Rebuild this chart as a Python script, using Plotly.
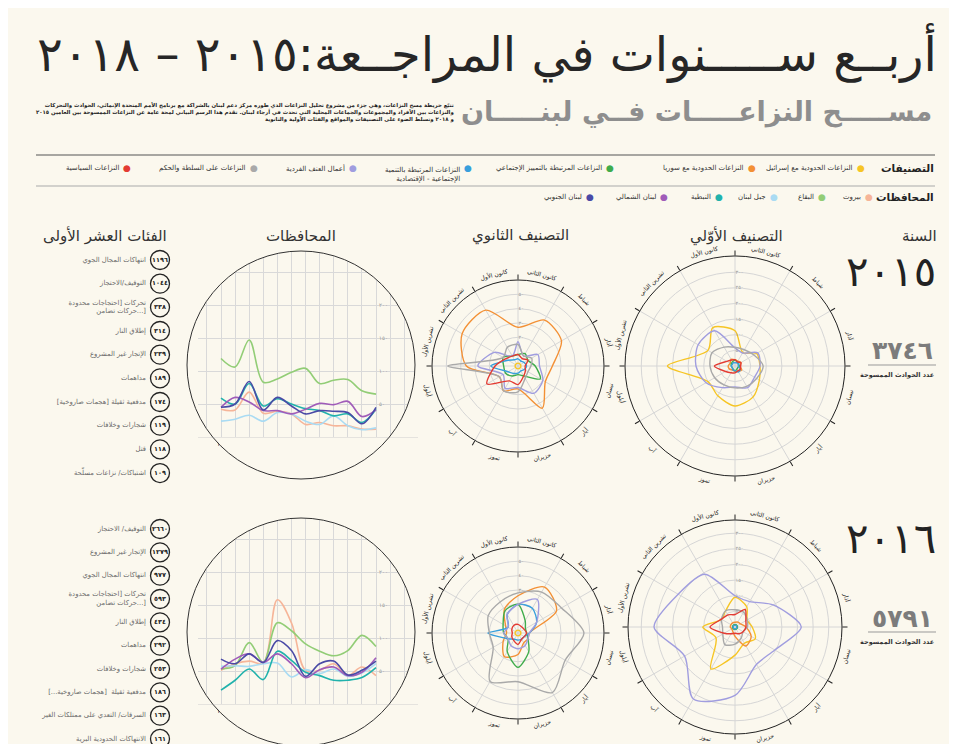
import math
import plotly.graph_objects as go

W, H = 957, 744
BG = "#fbf8ee"
FONT = "DejaVu Sans"

# ---------------- data ----------------
months_full = ["كانون الثاني", "شباط", "آذار", "نيسان", "أيار", "حزيران",
               "تموز", "آب", "أيلول", "تشرين الأول", "تشرين الثاني", "كانون الأول"]
months_short = ["كا٢", "شب", "اذ", "ني", "اي", "حز", "تم", "اب", "اي", "ت١", "ت٢", "كا١"]
month_index = list(range(12))

category_names = ["النزاعات الحدودية مع إسرائيل", "النزاعات الحدودية مع سوريا",
                  "النزاعات المرتبطة بالتمييز الإجتماعي",
                  "النزاعات المرتبطة بالتنمية<br>الإجتماعية - الإقتصادية",
                  "أعمال العنف الفردية", "النزاعات على السلطة والحكم", "النزاعات السياسية"]
category_colors = ["#f6c525", "#f39035", "#3fac4c", "#379fdc", "#a09ddf", "#a9a9a9", "#e33b33"]

province_names = ["بيروت", "البقاع", "جبل لبنان", "النبطية", "لبنان الشمالي", "لبنان الجنوبي"]
province_colors = ["#f6b599", "#92cd76", "#a9dbf3", "#21b2ac", "#a05cb9", "#4a4aa6"]

# polar values: one row per category, 12 monthly values (Jan..Dec)
primary_2015 = [
    [113, 50, 80, 80, 90, 115, 128, 110, 100, 216, 100, 142],
    [20, 18, 22, 15, 25, 20, 18, 15, 20, 22, 18, 25],
    [18, 15, 12, 14, 10, 12, 15, 12, 10, 12, 14, 16],
    [10, 12, 14, 10, 20, 22, 15, 14, 10, 12, 10, 12],
    [58, 48, 84, 80, 72, 80, 67, 80, 107, 125, 136, 130],
    [60, 60, 70, 90, 80, 75, 70, 70, 75, 80, 85, 70],
    [20, 15, 22, 18, 20, 18, 22, 25, 35, 66, 30, 22],
]
secondary_2015 = [
    [2, 2, 2, 2, 2, 2, 2, 2, 2, 2, 2, 2],
    [27, 37, 35, 24, 22, 34, 16, 20, 15, 36, 45, 45],
    [8, 10, 8, 12, 18, 8, 6, 8, 10, 10, 12, 8],
    [5, 4, 5, 6, 5, 4, 5, 6, 8, 19, 8, 5],
    [17, 8, 16, 15, 20, 22, 15, 18, 12, 28, 19, 8],
    [15, 8, 11, 9, 8, 10, 18, 20, 15, 49, 12, 15],
    [8, 6, 8, 5, 6, 8, 13, 12, 25, 16, 10, 8],
]
primary_2016 = [
    [95, 75, 45, 55, 75, 60, 90, 155, 70, 103, 50, 60],
    [15, 18, 20, 35, 60, 70, 30, 15, 12, 15, 15, 15],
    [8, 8, 8, 8, 8, 8, 8, 8, 8, 8, 8, 8],
    [6, 6, 6, 6, 6, 6, 6, 6, 6, 6, 6, 6],
    [100, 94, 141, 212, 147, 138, 219, 266, 186, 259, 210, 195],
    [55, 55, 45, 40, 30, 40, 55, 65, 45, 40, 50, 60],
    [40, 65, 40, 35, 30, 25, 20, 25, 40, 80, 50, 45],
]
secondary_2016 = [
    [2, 2, 2, 2, 2, 2, 2, 2, 2, 2, 2, 2],
    [26, 37, 31, 8, 8, 8, 15, 19, 12, 8, 10, 19],
    [20, 10, 6, 6, 8, 15, 24, 15, 8, 10, 12, 18],
    [20, 20, 15, 8, 5, 5, 5, 5, 8, 21, 8, 15],
    [20, 27, 15, 8, 8, 10, 11, 10, 8, 10, 8, 15],
    [28, 33, 35, 46, 38, 48, 34, 39, 20, 20, 24, 25],
    [6, 5, 5, 6, 5, 5, 8, 6, 5, 4, 5, 6],
]

# governorates, monthly incidents (Jan..Dec)
provinces_2015 = [
    [12, 12, 17, 17, 22, 19, 35, 39, 36, 68, 41, 42],
    [65, 70, 87, 86, 81, 104, 98, 88, 83, 147, 106, 119],
    [14, 11, 17, 32, 19, 24, 35, 37, 24, 33, 27, 24],
    [42, 22, 35, 32, 40, 43, 50, 58, 47, 81, 50, 59],
    [41, 31, 54, 49, 51, 42, 35, 40, 40, 53, 60, 45],
    [45, 20, 37, 39, 40, 35, 47, 60, 41, 84, 50, 45],
]
provinces_2016 = [
    [43, 56, 43, 61, 51, 51, 123, 158, 62, 65, 61, 51],
    [87, 104, 81, 73, 80, 91, 111, 123, 63, 93, 58, 53],
    [61, 47, 42, 53, 46, 52, 41, 62, 61, 57, 58, 57],
    [55, 40, 36, 36, 43, 48, 66, 80, 37, 53, 36, 21],
    [70, 48, 43, 56, 52, 40, 61, 76, 63, 76, 68, 53],
    [65, 51, 44, 65, 61, 42, 81, 96, 63, 76, 61, 68],
]

top10_2015_labels = ["انتهاكات المجال الجوي", "التوقيف/الاحتجاز",
                     "تحركات [احتجاجات محدودة<br>حركات تضامن...]", "إطلاق النار",
                     "الإتجار غير المشروع", "مداهمات", "مدفعية ثقيلة [هجمات صاروخية]",
                     "شجارات وخلافات", "قتل", "اشتباكات/ نزاعات مسلّحة"]
top10_2015_counts = [1196, 1044, 338, 314, 239, 189, 174, 119, 118, 109]
top10_2016_labels = ["التوقيف/ الاحتجاز", "الإتجار غير المشروع", "انتهاكات المجال الجوي",
                     "تحركات [احتجاجات محدودة<br>حركات تضامن...]", "إطلاق النار", "مداهمات",
                     "شجارات وخلافات", "مدفعية ثقيلة  [هجمات صاروخية...]",
                     "السرقات/ التعدي على ممتلكات الغير", "الانتهاكات الحدودية البرية"]
top10_2016_counts = [2660, 1279, 977, 593, 434, 292, 253, 186, 163, 161]

years = [2015, 2016]
totals = [3746, 5791]

primary_ticks = [50, 100, 150, 200, 250, 300]
secondary_ticks = [20, 30, 40, 50]
line_ticks = [0, 50, 100, 150, 200, 250]

# ---------------- helpers ----------------
AR = str.maketrans("0123456789", "٠١٢٣٤٥٦٧٨٩")


def ar(n):
    return str(n).translate(AR)


def fx(x):
    return x / W


def fy(y):
    return 1 - y / H


fig = go.Figure()
annotations = []
shapes = []


def text(x, y, s, size, color="#222", anchor="center", weight="normal", angle=0, align="right"):
    annotations.append(dict(x=fx(x), y=fy(y), xref="paper", yref="paper", text=s,
                            showarrow=False, xanchor=anchor, yanchor="middle",
                            textangle=angle, align=align, borderpad=0,
                            font=dict(family=FONT, size=size, color=color, weight=weight)))


def hline(x0, x1, y, color, width):
    shapes.append(dict(type="line", xref="paper", yref="paper", x0=fx(x0), x1=fx(x1),
                       y0=fy(y), y1=fy(y), line=dict(color=color, width=width)))


# ---------------- header ----------------
text(930, 45, "أربــع ســـــنوات في المراجــعة:٢٠١٥ – ٢٠١٨", 48, "#262626", anchor="right")
text(925, 104, "مســـــح النزاعـــــات فــي لبنـــــان", 27, "#8e8e8e", anchor="right", weight="bold")
text(447, 104,
     "تتبّع خريطة مسح النزاعات، وهي جزء من مشروع تحليل النزاعات الذي طوره مركز دعم لبنان بالشراكة مع برنامج الأمم المتحدة الإنمائي، الحوادث والتحركات"
     "<br>والنزاعات بين الأفراد والمجموعات والجماعات المحلية التي تحدث في أرجاء لبنان. تقدم هذا الرسم البياني لمحة عامة عن النزاعات الممسوحة بين العامين ٢٠١٥"
     "<br>و ٢٠١٨ وتسلط الضوء على التصنيفات والمواقع والفئات الأولية والثانوية",
     5.4, "#222", anchor="right", weight="bold")

hline(28, 927, 147, "#555", 1.2)
hline(28, 927, 178, "#aaa", 1.2)

text(927, 160, "التصنيفات", 10.5, "#222", anchor="right", weight="bold")
cat_dot_x = [853, 744, 602, 460, 345, 246, 119]
for name, col, dx in zip(category_names, category_colors, cat_dot_x):
    text(dx, 160, "●", 9, col)
    yy = 166 if "<br>" in name else 160
    text(dx - 7, yy, name, 7, "#333", anchor="right")

text(927, 189, "المحافظات", 10.5, "#222", anchor="right", weight="bold")
prov_dot_x = [861, 814, 766, 711, 656, 582]
for name, col, dx in zip(province_names, province_colors, prov_dot_x):
    text(dx, 189, "●", 9, col)
    text(dx - 7, 189, name, 7, "#333", anchor="right")

text(930, 228, "السنة", 15, "#333", anchor="right")
text(728, 228, "التصنيف الأوّلي", 15, "#333")
text(512, 228, "التصنيف الثانوي", 15, "#333")
text(293, 228, "المحافظات", 15, "#333")
text(97, 228, "الفئات العشر الأولى", 15, "#333")

# ---------------- rows ----------------
row_cy = [358, 625]
primary_geom = [(727, 358, 110), (727, 619, 107)]
spoke_deg = [30 * i for i in month_index]
polar_sets = [(primary_2015, secondary_2015, provinces_2015, top10_2015_labels, top10_2015_counts),
              (primary_2016, secondary_2016, provinces_2016, top10_2016_labels, top10_2016_counts)]

layout_extra = {}
pidx = 0
for yi, (prim, sec, prov, t_lab, t_cnt) in enumerate(polar_sets):
    cy = row_cy[yi]
    # year block
    text(929, cy - 95, ar(years[yi]), 42, "#222", anchor="right")
    text(926, cy - 15, ar(totals[yi]), 25, "#7c7c7c", anchor="right", weight="bold")
    hline(860, 928, cy - 1, "#999", 1)
    text(927, cy + 9, "عدد الحوادث الممسوحة", 6.5, "#333", anchor="right", weight="bold")

    # polar charts
    pcx, pcy, pr = primary_geom[yi]
    for vals, cx, ccy, r, rmax, ticks in [(prim, pcx, pcy, pr, 352 * pr / 110, primary_ticks),
                                          (sec, 510, cy, 86, 60, secondary_ticks)]:
        pidx += 1
        key = "polar" if pidx == 1 else f"polar{pidx}"
        sub = "polar" if pidx == 1 else f"polar{pidx}"
        layout_extra[key] = dict(
            domain=dict(x=[fx(cx - r), fx(cx + r)], y=[fy(ccy + r), fy(ccy - r)]),
            bgcolor="rgba(0,0,0,0)",
            angularaxis=dict(direction="clockwise", rotation=90, tickvals=spoke_deg,
                             ticks="outside", ticklen=5, tickcolor="#222",
                             showticklabels=False, showline=True, linecolor="#222",
                             linewidth=1, gridcolor="#d6d6d6", gridwidth=0.8),
            radialaxis=dict(range=[0, rmax], tickvals=ticks, ticktext=[ar(t) for t in ticks],
                            angle=90, tickangle=90, showline=False, ticks="",
                            gridcolor="#d6d6d6", gridwidth=0.8,
                            tickfont=dict(family=FONT, size=5, color="#999")),
        )
        for series, col in zip(vals, category_colors):
            fig.add_trace(go.Scatterpolar(
                r=series + series[:1], theta=spoke_deg + spoke_deg[:1], mode="lines",
                line=dict(color=col, width=1.4, shape="spline", smoothing=0.8),
                subplot=sub, showlegend=False, hoverinfo="skip"))
        # month labels around the circle
        for i, m in enumerate(months_full):
            th = 15 + 30 * i
            rr = r + 8
            x = cx + rr * math.sin(math.radians(th))
            y = ccy - rr * math.cos(math.radians(th))
            ang = th if (th < 90 or th > 270) else th - 180
            if ang > 180:
                ang -= 360
            text(x, y, m, 6, "#222", angle=ang)

    # line chart in circle
    lcx, lcy, lr = 293, cy - 1, 114
    zero_y = lcy + 72
    jan_x, dec_x = 368, 213
    ppm = (jan_x - dec_x) / 11.0
    upp = 50 / 33.0
    left_px, right_px, top_px = lcx - lr - 3, lcx + lr + 3, lcy - lr - 3
    xa = "xaxis" if yi == 0 else "xaxis2"
    ya = "yaxis" if yi == 0 else "yaxis2"
    xr = "x" if yi == 0 else "x2"
    yr = "y" if yi == 0 else "y2"
    gridvals = list(range(-3, 15))
    layout_extra[xa] = dict(domain=[fx(left_px), fx(right_px)],
                            range=[(jan_x - left_px) / ppm, (jan_x - right_px) / ppm],
                            anchor=yr, tickvals=gridvals,
                            ticktext=[months_short[v] if 0 <= v <= 11 else "" for v in gridvals],
                            showgrid=True, gridcolor="#d9d9d9", gridwidth=0.8, zeroline=False,
                            showline=True, linecolor="#cfcfcf", ticks="",
                            tickfont=dict(family=FONT, size=6.5, color="#333"))
    layout_extra[ya] = dict(domain=[fy(zero_y), fy(top_px)], range=[0, (zero_y - top_px) * upp],
                            anchor="free", position=fx(jan_x + 2), side="right",
                            tickvals=line_ticks,
                            ticktext=["" if v in (0, 250) else ar(v) for v in line_ticks],
                            showgrid=True, gridcolor="#d9d9d9", gridwidth=0.8, zeroline=False,
                            showline=False, ticks="",
                            tickfont=dict(family=FONT, size=5.5, color="#999"))
    for series, col in zip(prov, province_colors):
        fig.add_trace(go.Scatter(x=month_index, y=series, mode="lines", xaxis=xr, yaxis=yr,
                                 line=dict(color=col, width=1.6, shape="spline", smoothing=1),
                                 showlegend=False, hoverinfo="skip"))
    # mask outside circle
    pts = []
    for k in range(181):
        a = 2 * math.pi * k / 180
        pts.append((lcx + (lr - 0.5) * math.cos(a), lcy + (lr - 0.5) * math.sin(a)))
    rect = [(left_px - 4, top_px - 4), (right_px + 4, top_px - 4),
            (right_px + 4, zero_y + 0.6), (left_px - 4, zero_y + 0.6)]
    path = "M " + " L ".join(f"{fx(a):.5f},{fy(b):.5f}" for a, b in rect) + " Z "
    path += "M " + " L ".join(f"{fx(a):.5f},{fy(b):.5f}" for a, b in pts) + " Z"
    shapes.append(dict(type="path", xref="paper", yref="paper", path=path, fillrule="evenodd",
                       fillcolor=BG, line=dict(width=0), layer="above"))
    shapes.append(dict(type="circle", xref="paper", yref="paper", x0=fx(lcx - lr), x1=fx(lcx + lr),
                       y0=fy(lcy + lr), y1=fy(lcy - lr), line=dict(color="#333", width=1),
                       layer="above"))

    # top-ten list
    first_row = 252 if yi == 0 else 521
    step = 23.67 if yi == 0 else 23.33
    d_top, d_bot = first_row - 12, first_row + 9 * step + 13
    xa3 = f"xaxis{3 + yi}"
    ya3 = f"yaxis{3 + yi}"
    xr3 = f"x{3 + yi}"
    yr3 = f"y{3 + yi}"
    layout_extra[xa3] = dict(domain=[0, fx(190)], range=[0, 190], visible=False)
    layout_extra[ya3] = dict(domain=[fy(d_bot), fy(d_top)],
                             range=[1 + (d_bot - first_row) / step, 1 + (d_top - first_row) / step],
                             visible=False)
    ranks = list(range(1, 11))
    fig.add_trace(go.Scatter(x=[152] * 10, y=ranks, mode="markers+text", xaxis=xr3, yaxis=yr3,
                             marker=dict(symbol="circle-open", size=19, color="#222",
                                         line=dict(width=1.3, color="#222")),
                             text=[ar(c) for c in t_cnt], textposition="middle center",
                             textfont=dict(family=FONT, size=6.5, color="#222", weight="bold"),
                             showlegend=False, hoverinfo="skip"))
    fig.add_trace(go.Scatter(x=[138] * 10, y=ranks, mode="text", xaxis=xr3, yaxis=yr3,
                             text=t_lab, textposition="middle left",
                             textfont=dict(family=FONT, size=6.8, color="#6a6a6a"),
                             showlegend=False, hoverinfo="skip"))

fig.update_layout(width=W, height=H, margin=dict(l=0, r=0, t=0, b=0),
                  paper_bgcolor=BG, plot_bgcolor=BG, showlegend=False,
                  annotations=annotations, shapes=shapes, **layout_extra)
fig.write_html("out.html")
